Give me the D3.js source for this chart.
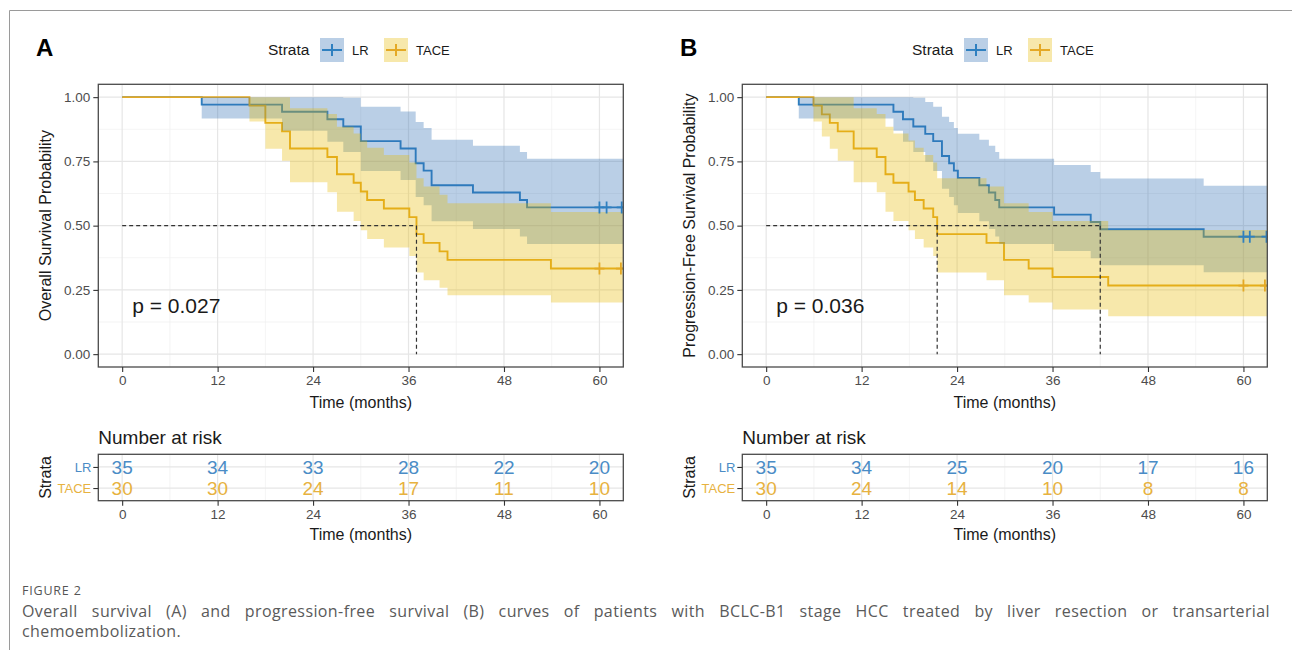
<!DOCTYPE html>
<html>
<head>
<meta charset="utf-8">
<script src="https://cdn.jsdelivr.net/npm/d3@7"></script>
<style>
  body { margin: 0; background: #fff; }
  svg { display: block; font-family: "Liberation Sans", Arial, sans-serif; }
</style>
</head>
<body>
<div id="chart"></div>
<script>
// ---- data ----
const strata = ["LR", "TACE"];
const xTicks = [0, 12, 24, 36, 48, 60];
const xMinor = [6, 18, 30, 42, 54];
const yTicks = [0, 0.25, 0.5, 0.75, 1];
const yMinor = [0.125, 0.375, 0.625, 0.875];

// A: overall survival
const osLrTime   = [0, 10.0, 20.1, 25.8, 27.8, 30.0, 35.0, 36.9, 37.9, 38.9, 44.1, 50.0, 50.9];
const osLrSurv   = [1, .971, .943, .914, .886, .829, .800, .743, .714, .657, .629, .600, .571];
const osLrLower  = [1, .917, .869, .826, .787, .713, .678, .611, .579, .517, .487, .458, .429];
const osLrUpper  = [1, 1, 1, 1, .998, .963, .944, .903, .880, .834, .811, .787, .760];
const osLrCensor = [60.0, 60.9, 62.8];

const osTaceTime   = [0, 16.0, 18.0, 20.1, 21.1, 25.8, 27.0, 29.1, 30.0, 30.8, 32.9, 36.1, 37.0, 37.9, 39.9, 40.9, 53.9];
const osTaceSurv   = [1, .967, .900, .867, .800, .767, .700, .667, .633, .600, .567, .533, .467, .433, .400, .367, .333];
const osTaceLower  = [1, .905, .799, .753, .669, .630, .554, .518, .482, .448, .415, .382, .318, .288, .258, .229, .201];
const osTaceUpper  = [1, 1, 1, 1, .957, .934, .885, .859, .831, .803, .775, .746, .684, .652, .620, .587, .553];
const osTaceCensor = [60.0, 62.7];

const osMedian = [37.0];
const osRiskLR   = [35, 34, 33, 28, 22, 20];
const osRiskTACE = [30, 30, 24, 17, 11, 10];

// B: progression-free survival
const pfsLrTime   = [0, 4.1, 16.0, 17.2, 18.5, 20.0, 21.0, 22.1, 23.0, 23.6, 24.1, 26.8, 28.0, 28.8, 29.3, 36.2, 40.8, 42.0, 55.0];
const pfsLrSurv   = [1, .971, .943, .914, .886, .857, .829, .771, .743, .714, .686, .657, .629, .600, .571, .543, .514, .486, .457];
const pfsLrLower  = [1, .917, .869, .826, .787, .749, .713, .644, .611, .579, .549, .517, .487, .458, .429, .401, .373, .346, .319];
const pfsLrUpper  = [1, 1, 1, 1, .998, .981, .963, .924, .903, .880, .858, .834, .811, .787, .760, .736, .709, .683, .655];
const pfsLrCensor = [60.0, 60.8, 62.9];

const pfsTaceTime   = [0, 5.95, 7.0, 8.0, 9.0, 11.0, 13.9, 15.0, 16.0, 17.9, 18.7, 19.8, 21.0, 21.5, 27.7, 29.9, 33.0, 36.0, 43.0];
const pfsTaceSurv   = [1, .967, .933, .900, .867, .800, .767, .700, .667, .633, .600, .567, .533, .467, .433, .367, .333, .300, .267];
const pfsTaceLower  = [1, .905, .847, .799, .753, .669, .630, .554, .518, .482, .448, .415, .382, .318, .288, .229, .201, .174, .147];
const pfsTaceUpper  = [1, 1, 1, 1, 1, .957, .934, .885, .859, .831, .803, .775, .746, .684, .652, .587, .553, .518, .483];
const pfsTaceCensor = [60.0, 62.7];

const pfsMedian = [21.5, 42.0];
const pfsRiskLR   = [35, 34, 25, 20, 17, 16];
const pfsRiskTACE = [30, 24, 14, 10, 8, 8];

const yTitles = ["Overall Survival Probability", "Progression-Free Survival Probability"];
const pValues = ["p = 0.027", "p = 0.036"];
const panelLetters = ["A", "B"];
const captionLines = [
  "Overall survival (A) and progression-free survival (B) curves of patients with BCLC-B1 stage HCC treated by liver resection or transarterial",
  "chemoembolization."
];

// ---- layout ----
let width = 1292, height = 650;
let panel = { left: 98.3, right: 623.3, top: 84.3, bottom: 367 };
let table = { top: 454.3, bottom: 500.7 };

const lineColor = { LR: "#2f80c0", TACE: "#e4a925" };
const fillColor = { LR: "#2e6db4", TACE: "#e8b800" };
const textColor = { LR: "#4a8cc6", TACE: "#e7b23f" };

const svg = d3.select("#chart")
  .append("svg")
  .attr("width", width)
  .attr("height", height)
  .attr("viewBox", [0, 0, width, height]);

// frame of the figure box
svg.append("line").attr("x1", 9.5).attr("x2", width).attr("y1", 10.5).attr("y2", 10.5)
  .attr("stroke", "#9a9a9a");
svg.append("line").attr("x1", 9.5).attr("x2", 9.5).attr("y1", 10.5).attr("y2", height)
  .attr("stroke", "#9a9a9a");

function series(time, surv, lower, upper) {
  let rows = time.map((t, i) => ({ t: t, s: surv[i], lo: lower[i], hi: upper[i] }));
  let last = rows[rows.length - 1];
  rows.push({ t: 63, s: last.s, lo: last.lo, hi: last.hi });
  return rows;
}

function survAt(rows, t) {
  let i = d3.bisectRight(rows.map(d => d.t), t) - 1;
  return rows[Math.max(0, i)].s;
}

function styleAxis(a) {
  a.select(".domain").remove();
  a.selectAll("line").attr("stroke", "#333").attr("stroke-width", 1.1);
  a.selectAll("text").attr("fill", "#4d4d4d").attr("font-size", 13.5)
    .attr("font-family", "'Liberation Sans', Arial, sans-serif");
}

function drawPanel(k, dx, curves, medians, risk) {
  let g = svg.append("g").attr("transform", `translate(${dx},0)`);

  let x = d3.scaleLinear().domain([-3, 63]).range([panel.left, panel.right]);
  let y = d3.scaleLinear().domain([-0.05, 1.05]).range([panel.bottom, panel.top]);

  // panel letter
  g.append("text")
    .attr("x", 36).attr("y", 56)
    .attr("font-size", 24).attr("font-weight", "bold")
    .text(panelLetters[k]);

  // legend
  let leg = g.append("g").attr("transform", "translate(268,50)");
  leg.append("text").attr("x", 0).attr("dy", "0.35em")
    .attr("font-size", 15.5).attr("fill", "#1a1a1a").text("Strata");
  let keyX = { LR: 52, TACE: 116 };
  for (let s of strata) {
    let kg = leg.append("g").attr("transform", `translate(${keyX[s]},0)`);
    kg.append("rect").attr("x", 0).attr("y", -12).attr("width", 24).attr("height", 24)
      .attr("fill", fillColor[s]).attr("fill-opacity", 0.33);
    kg.append("path").attr("d", "M2,0H22M12,-6V6")
      .attr("stroke", lineColor[s]).attr("stroke-width", 2);
    kg.append("text").attr("x", 32).attr("dy", "0.35em")
      .attr("font-size", 13).attr("fill", "#1a1a1a").text(s);
  }

  // grid
  let grid = g.append("g");
  grid.selectAll(".vmin").data(xMinor).join("line")
    .attr("x1", d => x(d)).attr("x2", d => x(d))
    .attr("y1", panel.top).attr("y2", panel.bottom)
    .attr("stroke", "#efefef").attr("stroke-width", 0.7);
  grid.selectAll(".hmin").data(yMinor).join("line")
    .attr("x1", panel.left).attr("x2", panel.right)
    .attr("y1", d => y(d)).attr("y2", d => y(d))
    .attr("stroke", "#efefef").attr("stroke-width", 0.7);
  grid.selectAll(".vmaj").data(xTicks).join("line")
    .attr("x1", d => x(d)).attr("x2", d => x(d))
    .attr("y1", panel.top).attr("y2", panel.bottom)
    .attr("stroke", "#e6e6e6").attr("stroke-width", 1.2);
  grid.selectAll(".hmaj").data(yTicks).join("line")
    .attr("x1", panel.left).attr("x2", panel.right)
    .attr("y1", d => y(d)).attr("y2", d => y(d))
    .attr("stroke", "#e6e6e6").attr("stroke-width", 1.2);

  let clipId = "clip" + k;
  g.append("clipPath").attr("id", clipId)
    .append("rect")
    .attr("x", panel.left).attr("y", panel.top)
    .attr("width", panel.right - panel.left).attr("height", panel.bottom - panel.top);

  let plot = g.append("g").attr("clip-path", `url(#${clipId})`);

  let line = d3.line().curve(d3.curveStepAfter)
    .x(d => x(d.t)).y(d => y(d.s));
  let area = d3.area().curve(d3.curveStepAfter)
    .x(d => x(d.t)).y0(d => y(d.lo)).y1(d => y(d.hi));

  for (let s of strata) {
    plot.append("path").datum(curves[s].rows)
      .attr("fill", "none")
      .attr("stroke", lineColor[s])
      .attr("stroke-width", 1.9)
      .attr("d", line);
  }
  for (let s of strata) {
    plot.append("path").datum(curves[s].rows)
      .attr("fill", fillColor[s])
      .attr("fill-opacity", 0.33)
      .attr("d", area);
  }
  for (let s of strata) {
    plot.selectAll(null).data(curves[s].censor).join("path")
      .attr("d", t => {
        let cx = x(t), cy = y(survAt(curves[s].rows, t));
        return `M${cx - 5},${cy}H${cx + 5}M${cx},${cy - 6}V${cy + 6}`;
      })
      .attr("stroke", lineColor[s])
      .attr("stroke-width", 1.8);
  }

  // median lines
  plot.append("line")
    .attr("x1", x(0)).attr("x2", x(d3.max(medians)))
    .attr("y1", y(0.5)).attr("y2", y(0.5))
    .attr("stroke", "#333").attr("stroke-width", 1.2).attr("stroke-dasharray", "4,3");
  plot.selectAll(null).data(medians).join("line")
    .attr("x1", d => x(d)).attr("x2", d => x(d))
    .attr("y1", y(0.5)).attr("y2", y(0))
    .attr("stroke", "#333").attr("stroke-width", 1.2).attr("stroke-dasharray", "4,3");

  g.append("text")
    .attr("x", x(0) + 10).attr("y", y(0.16))
    .attr("font-size", 21).attr("fill", "#1a1a1a")
    .text(pValues[k]);

  g.append("rect")
    .attr("x", panel.left).attr("y", panel.top)
    .attr("width", panel.right - panel.left).attr("height", panel.bottom - panel.top)
    .attr("fill", "none").attr("stroke", "#4a4a4a").attr("stroke-width", 1.3);

  // axes
  let ax = g.append("g")
    .attr("transform", `translate(0,${panel.bottom})`)
    .call(d3.axisBottom(x).tickValues(xTicks).tickSize(5).tickPadding(3));
  let ay = g.append("g")
    .attr("transform", `translate(${panel.left},0)`)
    .call(d3.axisLeft(y).tickValues(yTicks).tickFormat(d3.format(".2f")).tickSize(5).tickPadding(3));
  styleAxis(ax);
  styleAxis(ay);

  g.append("text")
    .attr("x", (panel.left + panel.right) / 2).attr("y", 408)
    .attr("text-anchor", "middle").attr("font-size", 16).attr("fill", "#1a1a1a")
    .text("Time (months)");
  g.append("text")
    .attr("transform", `translate(45,${(panel.top + panel.bottom) / 2}) rotate(-90)`)
    .attr("text-anchor", "middle").attr("dy", "0.35em")
    .attr("font-size", 16).attr("fill", "#1a1a1a")
    .text(yTitles[k]);

  // risk table
  let ry = d3.scalePoint().domain(strata).range([table.top, table.bottom]).padding(0.6);

  g.append("text")
    .attr("x", panel.left).attr("y", 444)
    .attr("font-size", 19).attr("fill", "#1a1a1a")
    .text("Number at risk");

  let tg = g.append("g");
  tg.selectAll(".tv").data(xMinor).join("line")
    .attr("x1", d => x(d)).attr("x2", d => x(d))
    .attr("y1", table.top).attr("y2", table.bottom)
    .attr("stroke", "#efefef").attr("stroke-width", 0.7);
  tg.selectAll(".tvm").data(xTicks).join("line")
    .attr("x1", d => x(d)).attr("x2", d => x(d))
    .attr("y1", table.top).attr("y2", table.bottom)
    .attr("stroke", "#e6e6e6").attr("stroke-width", 1.2);
  tg.selectAll(".th").data(strata).join("line")
    .attr("x1", panel.left).attr("x2", panel.right)
    .attr("y1", d => ry(d)).attr("y2", d => ry(d))
    .attr("stroke", "#e6e6e6").attr("stroke-width", 1.2);

  for (let s of strata) {
    tg.selectAll(null).data(xTicks).join("text")
      .attr("x", d => x(d)).attr("y", ry(s))
      .attr("dy", "0.36em").attr("text-anchor", "middle")
      .attr("font-size", 19).attr("fill", textColor[s])
      .text((d, i) => risk[s][i]);
  }

  tg.append("rect")
    .attr("x", panel.left).attr("y", table.top)
    .attr("width", panel.right - panel.left).attr("height", table.bottom - table.top)
    .attr("fill", "none").attr("stroke", "#4a4a4a").attr("stroke-width", 1.3);

  let tx = g.append("g")
    .attr("transform", `translate(0,${table.bottom})`)
    .call(d3.axisBottom(x).tickValues(xTicks).tickSize(5).tickPadding(4));
  let ty = g.append("g")
    .attr("transform", `translate(${panel.left},0)`)
    .call(d3.axisLeft(ry).tickSize(5).tickPadding(2));
  styleAxis(tx);
  styleAxis(ty);
  ty.selectAll("text").attr("fill", d => textColor[d]).attr("font-size", 13);

  g.append("text")
    .attr("x", (panel.left + panel.right) / 2).attr("y", 540)
    .attr("text-anchor", "middle").attr("font-size", 16).attr("fill", "#1a1a1a")
    .text("Time (months)");
  g.append("text")
    .attr("transform", `translate(45,${(table.top + table.bottom) / 2}) rotate(-90)`)
    .attr("text-anchor", "middle").attr("dy", "0.35em")
    .attr("font-size", 16).attr("fill", "#1a1a1a")
    .text("Strata");
}

drawPanel(0, 0, {
  LR: { rows: series(osLrTime, osLrSurv, osLrLower, osLrUpper), censor: osLrCensor },
  TACE: { rows: series(osTaceTime, osTaceSurv, osTaceLower, osTaceUpper), censor: osTaceCensor }
}, osMedian, { LR: osRiskLR, TACE: osRiskTACE });

drawPanel(1, 644, {
  LR: { rows: series(pfsLrTime, pfsLrSurv, pfsLrLower, pfsLrUpper), censor: pfsLrCensor },
  TACE: { rows: series(pfsTaceTime, pfsTaceSurv, pfsTaceLower, pfsTaceUpper), censor: pfsTaceCensor }
}, pfsMedian, { LR: pfsRiskLR, TACE: pfsRiskTACE });

// caption
svg.append("text")
  .attr("x", 22).attr("y", 595)
  .attr("font-family", "'Open Sans', sans-serif")
  .attr("font-size", 12.5).attr("letter-spacing", 0.8).attr("fill", "#555")
  .text("FIGURE 2");

let cap = svg.append("g")
  .attr("font-family", "'Open Sans', sans-serif")
  .attr("font-size", 16).attr("letter-spacing", 0.4).attr("fill", "#5a5a5a");

captionLines.forEach((txt, i) => {
  let t = cap.append("text").attr("x", 22).attr("y", 617 + i * 20).text(txt);
  if (i === 0) {
    let len = t.node().getComputedTextLength();
    let gaps = txt.split(" ").length - 1;
    t.attr("word-spacing", (1270 - 22 - len) / gaps);
  }
});
</script>
</body>
</html>
